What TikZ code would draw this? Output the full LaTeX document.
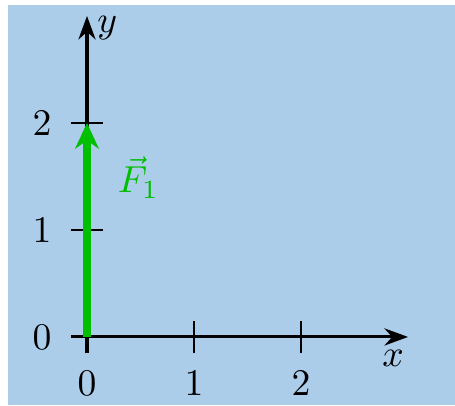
\documentclass[tikz,border=0pt]{standalone}
\usetikzlibrary{arrows.meta}
\definecolor{bgblue}{RGB}{171,205,234}
\definecolor{vecgreen}{RGB}{0,190,0}
\begin{document}
\begin{tikzpicture}[
  axis/.style={line width=0.8pt,-{Stealth[length=2.2mm,width=1.6mm]}},
  tickline/.style={line width=0.5pt},
  vec/.style={line width=2.1pt,vecgreen,-{Stealth[length=2.4mm,width=2.2mm]}}
]
\useasboundingbox (-0.813,-0.636) rectangle (3.439,3.149);
\fill[white] (-0.813,-0.636) rectangle (3.439,3.149);
\fill[bgblue] (-0.738,-0.636) rectangle (3.439,3.103);
\coordinate (o) at (0,0);
\coordinate (xs) at (-0.15,0);
\coordinate (xe) at (3,0);
\coordinate (ys) at (0,-0.15);
\coordinate (ye) at (0,3);
\draw[axis] (xs) -- (xe);
\draw[axis] (ys) -- (ye);
\foreach \i in {1,2} {
  \draw[tickline] (\i,-0.15) -- (\i,0.15);
  \draw[tickline] (-0.15,\i) -- (0.15,\i);
}
\foreach \i in {0,1,2} {
  \node (xl\i) at (\i,-0.43) {$\i$};
  \node (yl\i) at (-0.42,\i) {$\i$};
}
\node (xlab) at (2.86,-0.2) {$x$};
\node (ylab) at (0.19,2.89) {$y$};
\coordinate (ftip) at (0,2);
\draw[vec] (o) -- (ftip);
\node[vecgreen] (flab) at (0.48,1.49) {$\vec{F}_1$};
\end{tikzpicture}
\end{document}
